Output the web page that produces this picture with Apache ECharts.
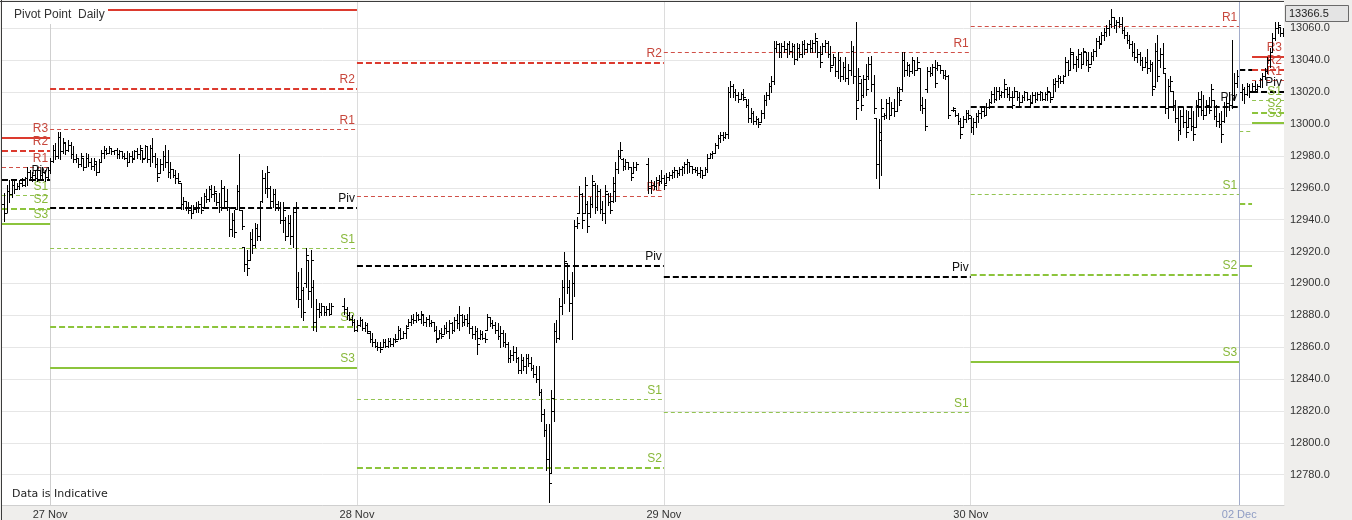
<!DOCTYPE html>
<html>
<head>
<meta charset="utf-8">
<script src="https://cdn.jsdelivr.net/npm/echarts@6/dist/echarts.min.js"></script>
<style>
  html, body { margin: 0; padding: 0; background: #efeeec; }
  #chart { width: 1352px; height: 520px; }
</style>
</head>
<body>
<div id="chart"></div>
<script>
// ---- time axis: one slot per bar, 120 slots per full trading day ----
const dayLabels = ['27 Nov', '28 Nov', '29 Nov', '30 Nov', '02 Dec'];
const dayStarts = [0, 120, 240, 360, 465];

// ---- price tick labels ----
const priceTicks = [12780, 12800, 12820, 12840, 12860, 12880, 12900, 12920, 12940, 12960, 12980, 13000, 13020, 13040, 13060];

// ---- OHLC bars per session: [open, high, low, close] ----
const bars26Nov = [
  [12950,12957,12939,12944],[12944,12962,12945,12958],[12958,12965,12951,12956],[12956,12965,12954,12962],
  [12962,12964,12957,12959],[12959,12963,12959,12961],[12961,12965,12959,12963],[12963,12966,12961,12962],
  [12962,12967,12961,12966],[12966,12973,12962,12970],[12970,12971,12965,12967],[12967,12970,12964,12968],
  [12968,12971,12965,12966],[12966,12973,12964,12971],[12971,12971,12966,12968],[12968,12973,12965,12970],
  [12970,12971,12964,12967],[12967,12973,12966,12971]
];
const bars27Nov = [
  [12971,12979,12969,12977],[12977,12987,12976,12984],[12984,12988,12978,12980],[12980,12995,12979,12992],
  [12992,12995,12978,12983],[12983,12991,12982,12989],[12988,12988,12981,12984],[12984,12990,12983,12987],
  [12987,12989,12979,12981],[12981,12986,12976,12978],[12978,12981,12976,12979],[12979,12979,12973,12975],
  [12975,12982,12974,12980],[12979,12979,12971,12973],[12973,12982,12973,12979],[12979,12981,12974,12976],
  [12976,12979,12972,12974],[12974,12979,12971,12977],[12975,12976,12968,12970],[12970,12978,12970,12976],
  [12976,12984,12976,12982],[12982,12986,12979,12984],[12984,12985,12981,12982],[12982,12986,12982,12985],
  [12985,12985,12981,12983],[12983,12984,12981,12984],[12984,12985,12979,12981],[12981,12984,12979,12983],
  [12983,12983,12979,12980],[12980,12982,12978,12979],[12979,12983,12974,12976],[12976,12982,12976,12980],
  [12980,12983,12976,12978],[12979,12984,12979,12983],[12983,12985,12979,12981],[12981,12987,12978,12985],
  [12984,12984,12976,12978],[12979,12987,12979,12986],[12986,12986,12976,12978],[12978,12987,12974,12985],
  [12985,12991,12976,12980],[12980,12982,12973,12975],[12975,12979,12964,12967],[12969,12978,12969,12975],
  [12975,12983,12971,12980],[12980,12987,12973,12976],[12976,12984,12967,12970],[12970,12976,12966,12972],
  [12972,12972,12967,12968],[12968,12971,12963,12966],[12966,12969,12963,12964],[12963,12963,12947,12950],
  [12950,12954,12947,12952],[12952,12952,12946,12948],[12948,12951,12944,12946],[12946,12949,12941,12944],
  [12944,12949,12944,12947],[12947,12951,12945,12948],[12948,12952,12945,12950],[12950,12954,12944,12946],
  [12948,12957,12948,12955],[12955,12959,12951,12953],[12953,12961,12952,12959],[12959,12962,12954,12956],
  [12956,12961,12952,12958],[12957,12957,12949,12951],[12951,12957,12945,12948],[12948,12965,12946,12960],
  [12960,12961,12948,12952],[12952,12959,12946,12948],[12948,12948,12930,12934],[12934,12944,12930,12940],
  [12940,12946,12929,12932],[12947,12962,12947,12958],[12958,12981,12946,12948],[12946,12946,12934,12936],
  [12923,12923,12908,12912],[12912,12921,12905,12910],[12915,12932,12915,12928],[12928,12934,12919,12924],
  [12924,12938,12923,12935],[12935,12937,12927,12930],[12930,12952,12927,12948],[12952,12971,12951,12966],
  [12966,12969,12957,12960],[12960,12974,12954,12970],[12960,12961,12948,12952],[12952,12959,12948,12956],
  [12956,12959,12946,12950],[12950,12952,12946,12948],[12948,12951,12938,12940],[12940,12951,12932,12946],
  [12940,12942,12927,12930],[12930,12943,12930,12938],[12938,12943,12925,12930],[12930,12948,12923,12945],
  [12945,12951,12890,12898],[12898,12907,12885,12890],[12890,12910,12879,12896],[12896,12898,12877,12882],
  [12900,12922,12898,12918],[12915,12915,12890,12895],[12895,12921,12885,12915],[12898,12902,12871,12876],
  [12876,12890,12870,12884],[12884,12888,12879,12882],[12882,12888,12880,12886],[12886,12886,12880,12882],
  [12882,12886,12880,12884],[12884,12888,12880,12881],[12881,12888,12881,12886],null,
  null,null,null,[12886,12891,12881,12884],
  [12884,12885,12878,12880],[12880,12882,12877,12878],[12878,12880,12874,12876],[12876,12878,12870,12871]
];
const bars28Nov = [
  [12871,12877,12870,12874],[12874,12879,12873,12877],[12877,12878,12871,12872],[12872,12876,12870,12874],
  [12874,12875,12869,12870],[12869,12870,12863,12865],[12865,12869,12861,12863],[12863,12865,12860,12861],
  [12861,12863,12858,12860],[12860,12863,12857,12859],[12860,12865,12860,12863],[12863,12865,12860,12861],
  [12861,12866,12860,12864],[12864,12866,12861,12862],[12862,12866,12861,12865],[12865,12868,12863,12864],
  [12865,12873,12865,12871],[12871,12872,12865,12866],[12866,12870,12866,12869],[12869,12874,12866,12872],
  [12873,12878,12873,12876],[12876,12880,12874,12878],[12878,12881,12875,12877],[12877,12882,12876,12880],
  [12880,12881,12877,12878],[12878,12883,12875,12881],[12880,12880,12874,12876],[12876,12879,12873,12878],
  [12878,12880,12873,12875],[12875,12877,12873,12876],[12876,12876,12870,12871],[12871,12873,12863,12865],
  [12866,12871,12866,12869],[12869,12872,12866,12867],[12868,12874,12868,12872],[12872,12876,12869,12870],
  [12870,12877,12866,12875],[12875,12876,12869,12871],[12871,12879,12870,12877],[12877,12881,12872,12875],
  [12875,12886,12871,12880],[12880,12881,12873,12876],[12876,12880,12874,12878],[12878,12881,12873,12875],
  [12875,12885,12869,12872],[12872,12873,12866,12868],[12868,12873,12865,12870],[12870,12872,12856,12862],
  [12866,12871,12865,12868],[12868,12870,12865,12866],[12866,12869,12863,12865],[12871,12881,12871,12879],
  [12879,12879,12873,12875],[12875,12877,12872,12874],[12874,12876,12869,12871],[12871,12875,12865,12867],
  [12867,12873,12860,12869],[12869,12871,12861,12863],[12863,12869,12860,12862],[12862,12863,12851,12853],
  [12853,12858,12851,12855],[12855,12861,12852,12857],[12857,12860,12851,12853],[12853,12854,12844,12846],
  [12846,12856,12844,12852],[12852,12854,12846,12848],[12848,12856,12844,12853],[12853,12856,12848,12850],
  [12850,12854,12846,12847],[12847,12849,12841,12843],[12843,12848,12838,12840],[12840,12848,12830,12832],
  [12832,12834,12814,12818],[12818,12821,12804,12808],[12808,12812,12783,12790],[12790,12812,12763,12775],
  [12781,12833,12781,12828],[12820,12875,12814,12870],[12870,12877,12863,12866],[12866,12891,12865,12886],
  [12886,12902,12881,12898],[12898,12920,12888,12914],[12913,12913,12894,12898],[12898,12902,12883,12888],
  [12888,12907,12865,12900],[12900,12940,12892,12936],[12936,12942,12935,12938],[12944,12961,12944,12956],
  [12956,12957,12935,12940],[12944,12967,12944,12962],[12950,12952,12932,12936],[12944,12954,12942,12950],
  [12950,12968,12948,12964],[12962,12963,12944,12948],[12948,12962,12946,12958],[12958,12959,12944,12947],
  [12947,12952,12940,12944],[12944,12962,12938,12958],[12956,12957,12949,12951],[12951,12957,12944,12946],
  [12952,12967,12951,12963],[12958,12976,12952,12972],[12972,12984,12969,12980],[12980,12989,12979,12984],
  [12978,12979,12971,12974],[12974,12978,12972,12976],[12976,12976,12972,12973],[12973,12973,12965,12967],
  [12969,12976,12969,12973],[12973,12976,12971,12975],null,null,
  null,null,[12975,12979,12957,12960],[12960,12965,12957,12962],
  [12962,12964,12959,12961],[12961,12967,12959,12965],[12965,12968,12962,12964],[12964,12971,12963,12966]
];
const bars29Nov = [
  [12966,12968,12959,12962],[12963,12969,12963,12967],[12967,12970,12965,12968],[12968,12971,12966,12970],
  [12970,12973,12967,12971],[12971,12971,12967,12969],[12969,12973,12968,12972],[12972,12974,12968,12973],
  [12973,12976,12969,12975],[12975,12978,12969,12976],[12976,12976,12970,12974],[12974,12974,12969,12972],
  [12972,12973,12970,12971],[12971,12973,12968,12969],[12969,12973,12967,12971],[12971,12971,12966,12968],
  [12968,12973,12968,12972],[12972,12981,12970,12979],[12979,12982,12979,12981],[12981,12983,12979,12982],
  [12982,12988,12982,12987],[12987,12993,12985,12991],[12991,12995,12989,12993],[12993,12995,12990,12992],
  [12992,12995,12991,12994],[12994,13023,12991,13020],[13020,13027,13017,13024],[13024,13025,13017,13020],
  [13020,13022,13015,13018],[13018,13020,13014,13016],[13016,13020,13016,13019],[13019,13022,13015,13017],
  [13016,13016,13011,13012],[13012,13016,13001,13004],[13004,13010,13001,13007],[13007,13008,13000,13002],
  [13002,13005,13000,13003],[13003,13004,12998,13000],[13001,13009,13001,13007],[13007,13018,13004,13015],
  [13015,13020,13012,13018],[13018,13026,13016,13024],[13024,13030,13020,13027],[13027,13052,13025,13048],
  [13048,13052,13045,13050],[13050,13051,13042,13045],[13045,13051,13042,13049],[13049,13052,13045,13047],
  [13047,13051,13042,13050],[13050,13052,13044,13046],[13046,13051,13042,13049],[13049,13050,13038,13041],
  [13041,13051,13040,13048],[13048,13050,13042,13044],[13044,13052,13042,13050],[13050,13053,13044,13047],
  [13047,13051,13045,13050],[13050,13053,13045,13048],[13048,13053,13045,13051],[13051,13057,13045,13054],
  [13052,13052,13042,13045],[13045,13049,13036,13039],[13044,13051,13044,13049],[13049,13053,13045,13051],
  [13051,13052,13042,13044],[13044,13049,13033,13036],[13037,13044,13037,13042],[13042,13042,13030,13033],
  [13033,13045,13029,13040],[13040,13042,13027,13030],[13030,13039,13028,13036],[13036,13042,13027,13029],
  [13029,13038,13025,13034],[13034,13052,13031,13046],[13046,13049,13026,13030],[13030,13064,13003,13010],
  [13015,13035,13015,13030],[13026,13028,13009,13012],[13018,13031,13017,13028],[13028,13038,13018,13022],
  [13030,13042,13028,13038],[13038,13043,13021,13025],[13025,13031,13007,13010],[13004,13004,12966,12975],
  [12975,13003,12960,12995],[12990,13016,12968,13010],[13005,13007,13003,13006],[13006,13016,13004,13013],
  [13013,13017,13003,13006],[13006,13014,13006,13010],[13010,13016,13005,13008],[13008,13023,13008,13020],
  [13020,13023,13012,13015],[13022,13045,13021,13040],[13040,13045,13030,13034],[13034,13039,13031,13037],
  [13037,13038,13030,13033],[13033,13042,13032,13040],[13040,13040,13031,13034],[13034,13042,13034,13039],
  [13035,13035,13009,13012],[13012,13017,13007,13010],[13010,13016,12996,12999],[13022,13036,13020,13033],
  [13033,13036,13030,13032],[13032,13038,13031,13036],[13036,13040,13023,13026],[13035,13039,13034,13037],
  [13037,13037,13032,13034],[13034,13034,13029,13031],[13031,13034,13028,13030],[13030,13031,13004,13006],
  null,[13009,13011,13008,13010],[13009,13009,13005,13006],[13006,13007,13000,13002],
  [13002,13004,12991,12994],[12998,13005,12998,13003],[13003,13009,13001,13007],[13007,13009,13003,13006]
];
const bars30Nov = [
  [13004,13005,12995,12998],[12998,13004,12994,13001],[13001,13007,12998,13005],[13005,13009,13001,13007],
  [13007,13010,13004,13008],[13008,13011,13005,13006],[13006,13013,13006,13011],[13011,13016,13010,13014],
  [13014,13021,13013,13019],[13019,13023,13014,13016],[13016,13023,13015,13021],[13021,13023,13016,13018],
  [13018,13021,13017,13020],[13020,13028,13017,13025],[13022,13023,13017,13019],[13019,13023,13015,13017],
  [13017,13021,13010,13012],[13017,13023,13017,13021],[13021,13021,13015,13017],[13017,13020,13012,13014],
  [13014,13018,13014,13017],[13017,13021,13015,13020],[13020,13020,13015,13016],[13016,13018,13011,13013],
  [13014,13020,13014,13018],[13018,13020,13014,13016],[13016,13020,13015,13019],[13019,13021,13015,13020],
  [13020,13020,13015,13016],[13016,13020,13015,13019],[13019,13023,13015,13021],[13020,13020,13014,13016],
  [13017,13028,13017,13025],[13025,13029,13021,13027],[13027,13031,13023,13029],[13029,13030,13026,13027],
  [13027,13031,13026,13030],[13030,13042,13030,13039],[13039,13040,13031,13034],[13034,13048,13034,13045],
  [13044,13045,13035,13038],[13038,13043,13033,13041],[13041,13047,13036,13044],[13044,13045,13035,13038],
  [13038,13048,13038,13046],[13045,13045,13037,13040],[13040,13045,13033,13036],[13038,13045,13038,13043],
  [13043,13047,13040,13046],[13046,13054,13043,13052],[13052,13055,13048,13050],[13051,13058,13051,13056],
  [13056,13060,13053,13058],[13058,13062,13055,13060],[13060,13065,13056,13063],[13063,13072,13061,13067],
  [13067,13067,13060,13062],[13062,13065,13058,13064],[13064,13067,13061,13063],[13063,13067,13057,13059],
  [13059,13061,13054,13056],[13056,13058,13051,13053],[13053,13056,13048,13050],[13050,13052,13043,13045],
  [13045,13051,13040,13042],[13042,13047,13039,13044],[13044,13045,13037,13040],[13040,13042,13034,13036],
  [13036,13042,13036,13039],[13039,13047,13032,13035],[13035,13040,13033,13038],[13038,13039,13018,13022],
  [13024,13051,13023,13046],[13046,13056,13027,13030],[13040,13048,13036,13044],[13044,13051,13032,13035],
  [13032,13032,13007,13010],[13010,13028,13004,13024],[13024,13030,13021,13027],[13021,13021,13009,13012],
  [13012,13015,13001,13004],[13004,13011,12990,12996],[12996,13009,12994,13005],[13005,13011,12998,13001],
  [13001,13009,12992,12995],[12998,13008,12998,13004],[13004,13011,12996,12999],[12999,13008,12990,12994],
  [12998,13015,12998,13012],[13012,13020,13005,13016],[13016,13021,13006,13009],[13009,13018,13003,13006],
  [13006,13015,13006,13012],[13012,13017,13007,13009],[13011,13025,13011,13022],[13015,13015,13003,13005],
  [13005,13012,12999,13002],[13002,13007,12998,13000],[13000,13008,12989,12994],[13002,13014,13001,13011],
  [13011,13017,13005,13013],[13013,13020,13009,13012],[13012,13053,13010,13018],[13018,13032,13015,13026],
  [13026,13034,13023,13030]
];
const barsDecOpen = [
  [13020,13025,13015,13022],[13022,13023,13013,13019],[13019,13026,13018,13024],[13024,13025,13017,13020]
];
const bars02Dec = [
  [13021,13026,13020,13024],[13024,13027,13020,13022],[13022,13025,13021,13024],[13024,13029,13023,13028],
  [13028,13032,13023,13030],[13030,13035,13028,13033],[13033,13042,13032,13040],[13040,13048,13036,13045],
  [13045,13057,13045,13054],[13054,13064,13053,13060],[13060,13064,13057,13062],[13061,13061,13055,13057],
  [13057,13060,13055,13058]
];
// first slot of each session
const sessionStarts = [-18, 0, 120, 240, 360, 466, 470];
const sessionBars = [bars26Nov, bars27Nov, bars28Nov, bars29Nov, bars30Nov, barsDecOpen, bars02Dec];

// ---- daily pivot levels: one value per pivot period (null = outside the price range) ----
const pivotSpans = [[-19, 0], [0, 120], [120, 240], [240, 360], [360, 465], [465, 470], [470, 483]];
const pivotR3 = [12991.0, 13071.6, null,    null,    null,    null,    13042.1];
const pivotR2 = [12983.4, 13022.0, 13038.3, null,    null,    null,    13034.0];
const pivotR1 = [12973.1, 12996.9, 12954.9, 13045.2, 13061.6, null,    13027.7];
const pivotPP = [12965.2, 12947.3, 12910.9, 12904.0, 13010.7, 13034.0, 13020.1];
const pivotS1 = [12955.5, 12922.2, 12827.4, 12819.3, 12956.1, 12995.7, 13015.1];
const pivotS2 = [12947.0, 12872.6, 12784.1, null,    12905.3, 12949.8, 13007.0];
const pivotS3 = [12937.0, 12846.8, null,    null,    12850.6, 12910.9, 13000.7];
const levelNames = ['R3', 'R2', 'R1', 'Piv', 'S1', 'S2', 'S3'];
const periodLabelled = [true, true, true, true, true, false, true];

// ---- drawing styles per level ----
const RED = '#dc3a2e', RED_TXT = '#c7473c', GREEN = '#8cc43c', GREEN_TXT = '#88b83a';
const levelStyles = [
  { color: RED, width: 2, dash: null, text: RED_TXT },
  { color: RED, width: 2, dash: [6, 3], text: RED_TXT },
  { color: '#d05048', width: 1, dash: [4, 3], text: RED_TXT },
  { color: '#000', width: 2, dash: [6, 3], text: '#111' },
  { color: '#93c452', width: 1, dash: [4, 3], text: GREEN_TXT },
  { color: GREEN, width: 2, dash: [6, 3], text: GREEN_TXT },
  { color: GREEN, width: 2, dash: null, text: GREEN_TXT }
];

// build series tables
const ohlcData = [];
sessionBars.forEach((bars, s) => {
  bars.forEach((b, i) => {
    if (b) ohlcData.push([sessionStarts[s] + i, b[0], b[1], b[2], b[3]]);
  });
});
const pivotData = [];
[pivotR3, pivotR2, pivotR1, pivotPP, pivotS1, pivotS2, pivotS3].forEach((arr, li) => {
  arr.forEach((v, pi) => {
    if (v != null) pivotData.push([pivotSpans[pi][0], pivotSpans[pi][1], v, li, pi]);
  });
});

function renderOhlc(params, api) {
  const t = api.value(0);
  const pH = api.coord([t, api.value(2)]);
  const pL = api.coord([t, api.value(3)]);
  const yO = Math.round(api.coord([t, api.value(1)])[1]) + 0.5;
  const yC = Math.round(api.coord([t, api.value(4)])[1]) + 0.5;
  const x = Math.round(pH[0]) + 0.5;
  return {
    type: 'group',
    children: [
      { type: 'line', shape: { x1: x, y1: Math.round(pH[1]), x2: x, y2: Math.round(pL[1]) + 1 }, style: { stroke: '#000', lineWidth: 1 } },
      { type: 'line', shape: { x1: x - 2.5, y1: yO, x2: x, y2: yO }, style: { stroke: '#000', lineWidth: 1 } },
      { type: 'line', shape: { x1: x, y1: yC, x2: x + 2.5, y2: yC }, style: { stroke: '#000', lineWidth: 1 } }
    ]
  };
}

function renderPivot(params, api) {
  const cs = params.coordSys;
  const v = api.value(2), li = api.value(3), pi = api.value(4);
  const a = api.coord([api.value(0), v]);
  const b = api.coord([api.value(1), v]);
  if (a[1] < cs.y || a[1] > cs.y + cs.height) return null;
  const st = levelStyles[li];
  const x0 = Math.max(a[0], cs.x), x1 = Math.min(b[0], cs.x + cs.width);
  const y = st.width % 2 ? Math.round(a[1]) + 0.5 : Math.round(a[1]);
  const children = [{
    type: 'line',
    shape: { x1: x0, y1: y, x2: x1, y2: y },
    style: { stroke: st.color, lineWidth: st.width, lineDash: st.dash }
  }];
  if (periodLabelled[pi] && y - 16 >= cs.y) {
    children.push({
      type: 'text',
      style: {
        text: levelNames[li], x: x1 - 2, y: y - 3,
        align: 'right', verticalAlign: 'bottom',
        fill: st.text, font: '12px "Liberation Sans", Arial, sans-serif'
      }
    });
  }
  return { type: 'group', children };
}

const chart = echarts.init(document.getElementById('chart'), null, { renderer: 'canvas' });
chart.setOption({
  animation: false,
  backgroundColor: '#efeeec',
  grid: { left: 2, top: 2, right: 68, bottom: 15, show: true, backgroundColor: '#fff', borderWidth: 0 },
  xAxis: {
    type: 'value', min: -18.8, max: 482.5,
    axisLine: { show: true, lineStyle: { color: '#cfcfcf' } },
    axisTick: { show: false, customValues: dayStarts },
    axisLabel: {
      customValues: dayStarts,
      formatter: v => dayLabels[dayStarts.indexOf(Number(v))] || '',
      color: v => Number(v) === 465 ? '#8e9cc4' : '#333',
      fontSize: 11, fontFamily: '"Liberation Sans", Arial, sans-serif', margin: 4
    },
    splitLine: { show: true, lineStyle: { color: '#dcdcdc' } }
  },
  yAxis: {
    type: 'value', position: 'right', min: 12761, max: 13076.6,
    axisLine: { show: true, lineStyle: { color: '#cfcfcf' } },
    axisTick: { show: false, customValues: priceTicks },
    axisLabel: {
      customValues: priceTicks,
      formatter: v => Number(v).toFixed(1),
      color: '#333', fontSize: 11, fontFamily: '"Liberation Sans", Arial, sans-serif', margin: 6
    },
    splitLine: { show: true, lineStyle: { color: '#e6e6e6' } }
  },
  series: [
    {
      type: 'line', data: [], silent: true, z: 1,
      markLine: {
        silent: true, symbol: ['none', 'none'], label: { show: false },
        lineStyle: { color: '#a2acca', width: 1, type: 'solid' },
        data: [{ xAxis: dayStarts[4] }]
      }
    },
    {
      type: 'custom', name: 'pivots', renderItem: renderPivot, data: pivotData,
      encode: { x: [0, 1], y: 2 }, silent: true, z: 2
    },
    {
      type: 'custom', name: 'price', renderItem: renderOhlc, data: ohlcData,
      encode: { x: 0, y: [1, 2, 3, 4] }, clip: true, silent: true, z: 3
    }
  ],
  graphic: [
    { type: 'line', shape: { x1: 1.5, y1: 0, x2: 1.5, y2: 520 }, style: { stroke: '#3c3c3c', lineWidth: 1 }, z: 20 },
    { type: 'line', shape: { x1: 0, y1: 1.5, x2: 1284, y2: 1.5 }, style: { stroke: '#3c3c3c', lineWidth: 1 }, z: 20 },
    { type: 'rect', shape: { x: 2, y: 2, width: 106, height: 22 }, style: { fill: '#fff' }, z: 19 },
    { type: 'text', style: { text: 'Pivot Point  Daily', x: 14, y: 9, fill: '#333', font: '12px "Liberation Sans", Arial, sans-serif' }, z: 20 },
    { type: 'text', style: { text: 'Data is Indicative', x: 12, y: 489, fill: '#222', font: '11px "DejaVu Sans", Verdana, sans-serif' }, z: 20 },
    { type: 'rect', shape: { x: 1285.5, y: 5.5, width: 63, height: 16 }, style: { fill: '#e4e4e4', stroke: '#6a6a6a', lineWidth: 1 }, z: 20 },
    { type: 'text', style: { text: '13366.5', x: 1289, y: 8, fill: '#222', font: '11px "Liberation Sans", Arial, sans-serif' }, z: 21 }
  ]
});
</script>
</body>
</html>
